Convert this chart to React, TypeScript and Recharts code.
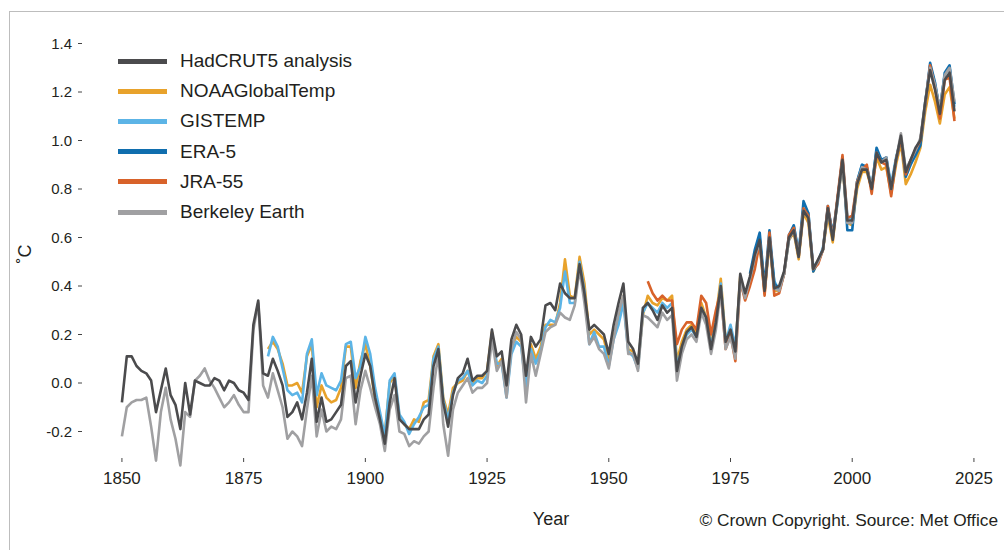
import React from 'react';
import { LineChart, Line, XAxis, YAxis, Legend } from 'recharts';

// global mean temperature anomaly (°C, relative to 1850-1900)
const FIRST_YEAR = 1850;
const LAST_YEAR = 2021;

const hadcrut5 = [
  -0.08, 0.11, 0.11, 0.07, 0.05, 0.04, 0.01, -0.12, -0.03, 0.06,
  -0.05, -0.09, -0.19, 0.0, -0.13, 0.01, 0.0, -0.01, -0.01, 0.02,
  0.01, -0.03, 0.01, 0.0, -0.03, -0.04, -0.07, 0.24, 0.34, 0.04,
  0.03, 0.1, 0.05, -0.01, -0.14, -0.12, -0.08, -0.15, -0.04, 0.1,
  -0.16, -0.06, -0.16, -0.15, -0.12, -0.09, 0.07, 0.09, -0.08, 0.03,
  0.12, 0.07, -0.06, -0.15, -0.25, -0.08, 0.02, -0.15, -0.17, -0.19,
  -0.19, -0.19, -0.15, -0.13, 0.07, 0.14, -0.08, -0.18, -0.05, 0.02,
  0.04, 0.1, 0.01, 0.03, 0.03, 0.05, 0.22, 0.11, 0.13, -0.01,
  0.18, 0.24, 0.2, 0.03, 0.19, 0.15, 0.18, 0.32, 0.33, 0.3,
  0.41, 0.37, 0.35, 0.35, 0.49, 0.37, 0.22, 0.24, 0.22, 0.2,
  0.12, 0.24, 0.33, 0.41, 0.17, 0.14, 0.08, 0.31, 0.33, 0.3,
  0.26, 0.32, 0.29, 0.31, 0.05, 0.15, 0.21, 0.23, 0.19, 0.31,
  0.27, 0.14, 0.25, 0.4, 0.17, 0.22, 0.13, 0.45, 0.37, 0.44,
  0.53, 0.59, 0.38, 0.6, 0.39, 0.4, 0.46, 0.6, 0.63, 0.52,
  0.71, 0.68, 0.47, 0.51, 0.55, 0.72, 0.59, 0.76, 0.92, 0.67,
  0.67, 0.82, 0.88, 0.88, 0.8, 0.95, 0.91, 0.92, 0.8, 0.92,
  1.02, 0.87, 0.92, 0.97, 1.0, 1.16, 1.29, 1.21, 1.11, 1.25,
  1.28, 1.12,
];

const berkeley = [
  -0.22, -0.1, -0.08, -0.07, -0.07, -0.06, -0.18, -0.32, -0.12, -0.02,
  -0.15, -0.23, -0.34, -0.12, -0.14, 0.01, 0.03, 0.06, 0.01, -0.02,
  -0.06, -0.1, -0.08, -0.05, -0.09, -0.12, -0.12, 0.22, 0.33, -0.01,
  -0.06, 0.04, -0.03, -0.1, -0.23, -0.2, -0.22, -0.26, -0.11, 0.03,
  -0.22, -0.11, -0.2, -0.18, -0.19, -0.15, 0.02, 0.03, -0.17, -0.03,
  0.05, -0.02, -0.1, -0.17, -0.28, -0.11, -0.05, -0.2, -0.21, -0.26,
  -0.24, -0.25, -0.22, -0.2, -0.02, 0.12, -0.17, -0.3, -0.11, -0.04,
  -0.01, 0.02, -0.04, -0.02, -0.02, 0.0, 0.18, 0.05, 0.09, -0.06,
  0.14, 0.21, 0.18, -0.08, 0.12, 0.03, 0.12, 0.21, 0.23, 0.24,
  0.29, 0.27, 0.26, 0.32, 0.47, 0.33, 0.16, 0.19, 0.14, 0.12,
  0.06, 0.18, 0.29, 0.36, 0.12, 0.12, 0.05, 0.28, 0.27, 0.25,
  0.23, 0.29, 0.26, 0.28, 0.01, 0.12, 0.18, 0.2, 0.17, 0.29,
  0.24, 0.12, 0.22, 0.38, 0.14, 0.19, 0.1, 0.42, 0.35, 0.43,
  0.52, 0.58, 0.39, 0.59, 0.39, 0.38, 0.45, 0.59, 0.63, 0.52,
  0.71, 0.68, 0.47, 0.5, 0.55, 0.71, 0.6, 0.75, 0.91, 0.66,
  0.66, 0.82, 0.89, 0.88, 0.81, 0.95, 0.91, 0.93, 0.8, 0.92,
  1.03, 0.88, 0.92, 0.96, 1.01, 1.16, 1.3, 1.23, 1.13, 1.27,
  1.3, 1.16,
];

// from 1880
const noaa = [
  0.14, 0.17, 0.14, 0.08, -0.01, -0.01, 0.0, -0.04, 0.11, 0.16,
  -0.1, -0.01, -0.06, -0.08, -0.07, -0.02, 0.15, 0.15, -0.02, 0.09,
  0.16, 0.07, -0.07, -0.15, -0.21, 0.0, 0.03, -0.14, -0.17, -0.19,
  -0.15, -0.16, -0.08, -0.07, 0.11, 0.16, -0.06, -0.13, -0.02, 0.0,
  0.01, 0.05, 0.0, 0.02, 0.02, 0.05, 0.21, 0.07, 0.1, -0.04,
  0.15, 0.19, 0.17, -0.01, 0.16, 0.1, 0.15, 0.24, 0.24, 0.24,
  0.33, 0.51, 0.36, 0.35, 0.52, 0.41, 0.2, 0.22, 0.2, 0.18,
  0.1, 0.19, 0.27, 0.36, 0.14, 0.13, 0.07, 0.28, 0.36, 0.33,
  0.32, 0.35, 0.34, 0.36, 0.09, 0.17, 0.22, 0.24, 0.2, 0.33,
  0.27, 0.16, 0.27, 0.43, 0.18, 0.22, 0.14, 0.44, 0.36, 0.41,
  0.5, 0.57, 0.37, 0.58, 0.38, 0.38, 0.45, 0.59, 0.62, 0.51,
  0.7, 0.66, 0.46, 0.5, 0.55, 0.69, 0.58, 0.76, 0.9, 0.66,
  0.65, 0.8, 0.87, 0.87, 0.8, 0.93, 0.88, 0.89, 0.78, 0.9,
  0.99, 0.82, 0.86, 0.91, 0.97, 1.12, 1.23, 1.16, 1.07, 1.19,
  1.22, 1.09,
];

// from 1880
const gistemp = [
  0.11, 0.19, 0.15, 0.06, -0.03, -0.05, -0.04, -0.08, 0.12, 0.18,
  -0.05, 0.04, -0.01, -0.02, -0.03, 0.01, 0.16, 0.17, 0.02, 0.07,
  0.19, 0.12, -0.02, -0.12, -0.22, 0.01, 0.04, -0.13, -0.16, -0.21,
  -0.17, -0.14, -0.1, -0.09, 0.1, 0.15, -0.07, -0.15, -0.04, 0.01,
  0.02, 0.05, -0.01, 0.01, 0.0, 0.03, 0.2, 0.08, 0.08, -0.06,
  0.12, 0.17, 0.15, -0.02, 0.14, 0.08, 0.13, 0.23, 0.26, 0.25,
  0.31, 0.46, 0.33, 0.33, 0.5, 0.38, 0.16, 0.21, 0.15, 0.15,
  0.07, 0.18, 0.24, 0.33, 0.13, 0.11, 0.06, 0.29, 0.33, 0.31,
  0.29, 0.33, 0.31, 0.33, 0.07, 0.14, 0.2, 0.22, 0.19, 0.31,
  0.27, 0.15, 0.25, 0.41, 0.17, 0.24, 0.15, 0.42, 0.35, 0.42,
  0.51, 0.6, 0.38, 0.6, 0.42, 0.38, 0.45, 0.59, 0.65, 0.54,
  0.72, 0.7, 0.48, 0.5, 0.56, 0.72, 0.62, 0.74, 0.93, 0.69,
  0.67, 0.83, 0.9, 0.89, 0.81, 0.96, 0.91, 0.93, 0.82, 0.93,
  1.01, 0.88, 0.91, 0.94, 1.0, 1.16, 1.31, 1.23, 1.13, 1.27,
  1.3, 1.14,
];

// from 1979
const era5 = [
  0.45,
  0.55, 0.62, 0.4, 0.63, 0.41, 0.39, 0.45, 0.61, 0.65, 0.53,
  0.75, 0.7, 0.46, 0.5, 0.55, 0.73, 0.61, 0.76, 0.93, 0.63,
  0.63, 0.83, 0.9, 0.89, 0.8, 0.97, 0.92, 0.93, 0.8, 0.92,
  1.01, 0.85, 0.9, 0.94, 0.98, 1.15, 1.32, 1.24, 1.12, 1.28,
  1.31, 1.15,
];

// from 1958
const jra55 = [
  0.42, 0.37,
  0.34, 0.36, 0.34, 0.34, 0.16, 0.22, 0.25, 0.25, 0.22, 0.36,
  0.33, 0.2, 0.3, 0.38, 0.14, 0.2, 0.09, 0.42, 0.34, 0.4,
  0.47, 0.58, 0.36, 0.62, 0.36, 0.37, 0.45, 0.61, 0.64, 0.52,
  0.72, 0.69, 0.47, 0.49, 0.55, 0.73, 0.6, 0.77, 0.94, 0.68,
  0.69, 0.83, 0.88, 0.9, 0.78, 0.94, 0.91, 0.9, 0.77, 0.92,
  1.01, 0.86, 0.92, 0.96, 1.0, 1.15, 1.31, 1.22, 1.09, 1.25,
  1.26, 1.08,
];

const xTicks = [1850, 1875, 1900, 1925, 1950, 1975, 2000, 2025];
const yTicks = [-0.2, 0, 0.2, 0.4, 0.6, 0.8, 1.0, 1.2, 1.4];

// legend order
const series = [
  { key: 'hadcrut5', name: 'HadCRUT5 analysis', color: '#4b4b4d', start: 1850, values: hadcrut5 },
  { key: 'noaa', name: 'NOAAGlobalTemp', color: '#e8a22b', start: 1880, values: noaa },
  { key: 'gistemp', name: 'GISTEMP', color: '#5cb4e6', start: 1880, values: gistemp },
  { key: 'era5', name: 'ERA-5', color: '#106eae', start: 1979, values: era5 },
  { key: 'jra55', name: 'JRA-55', color: '#d8622a', start: 1958, values: jra55 },
  { key: 'berkeley', name: 'Berkeley Earth', color: '#a0a0a2', start: 1850, values: berkeley },
];

// drawing order: HadCRUT5 on top
const drawOrder = ['noaa', 'gistemp', 'era5', 'jra55', 'berkeley', 'hadcrut5'];

const chartData = [];
for (let year = FIRST_YEAR; year <= LAST_YEAR; year++) {
  const row: Record<string, number | null> = { year };
  series.forEach((s) => {
    const i = year - s.start;
    row[s.key] = i >= 0 && i < s.values.length ? s.values[i] : null;
  });
  chartData.push(row);
}

const FONT = '"Liberation Sans", Arial, sans-serif';
const TEXT = '#231f20';

function YearTick(props: any) {
  const { x, y, payload } = props;
  return (
    <g>
      <line x1={x} x2={x} y1={y - 22} y2={y - 18} stroke="#444" strokeWidth={1} />
      <text x={x} y={y - 2} dy="0.355em" textAnchor="middle" fontSize={17} fill={TEXT} fontFamily={FONT}>
        {payload.value}
      </text>
    </g>
  );
}

function renderLegend() {
  return (
    <div style={{ fontFamily: FONT }}>
      {series.map((s) => (
        <div key={s.key} style={{ display: 'flex', alignItems: 'center', height: 30.2 }}>
          <span style={{ display: 'inline-block', width: 49, height: 5, background: s.color, marginRight: 13 }} />
          <span style={{ fontSize: 19, color: TEXT, whiteSpace: 'nowrap' }}>{s.name}</span>
        </div>
      ))}
    </div>
  );
}

export default function App() {
  return (
    <div style={{ position: 'absolute', left: 0, top: 0, width: 1004, height: 550, background: '#fff', fontFamily: FONT }}>
      <div
        style={{
          position: 'absolute',
          left: 9,
          top: 11,
          width: 994,
          height: 538,
          borderTop: '1px solid #bdbdbd',
          borderLeft: '1px solid #bdbdbd',
        }}
      />
      <LineChart width={1004} height={550} data={chartData} margin={{ top: 19.25, right: 14, bottom: 0, left: 22 }}>
        <XAxis
          dataKey="year"
          type="number"
          domain={[1841.8, 2028.3]}
          ticks={xTicks}
          interval={0}
          axisLine={false}
          tickLine={false}
          tickSize={0}
          tickMargin={0}
          height={70}
          tick={<YearTick />}
        />
        <YAxis
          type="number"
          domain={[-0.4, 1.5]}
          ticks={yTicks}
          interval={0}
          width={60}
          axisLine={false}
          tickSize={4}
          tickMargin={6}
          tickLine={{ stroke: '#444' }}
          tick={{ fontSize: 15, fill: TEXT, fontFamily: FONT }}
          tickFormatter={(v: number) => v.toFixed(1)}
        />
        <Legend
          layout="vertical"
          align="center"
          verticalAlign="middle"
          content={renderLegend}
          wrapperStyle={{ left: 118, top: 46, width: 260, height: 185 }}
        />
        {drawOrder.map((key) => {
          const s = series.find((d) => d.key === key)!;
          return (
            <Line
              key={s.key}
              dataKey={s.key}
              name={s.name}
              stroke={s.color}
              strokeWidth={2.6}
              strokeLinejoin="round"
              dot={false}
              activeDot={false}
              legendType="line"
              isAnimationActive={false}
            />
          );
        })}
      </LineChart>
      <div
        style={{
          position: 'absolute',
          left: 25,
          top: 254,
          transform: 'translate(-50%, -50%) rotate(-90deg)',
          fontSize: 18,
          color: TEXT,
          whiteSpace: 'nowrap',
        }}
      >
        ˚C
      </div>
      <div
        style={{
          position: 'absolute',
          left: 551,
          top: 519,
          transform: 'translate(-50%, -50%)',
          fontSize: 18,
          color: TEXT,
        }}
      >
        Year
      </div>
      <div
        style={{
          position: 'absolute',
          right: 6,
          top: 520,
          transform: 'translateY(-50%)',
          fontSize: 17.3,
          color: TEXT,
          whiteSpace: 'nowrap',
        }}
      >
        © Crown Copyright. Source: Met Office
      </div>
    </div>
  );
}
